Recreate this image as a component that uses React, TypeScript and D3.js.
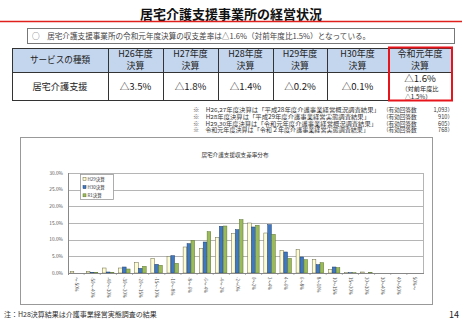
import { useRef, useEffect } from 'react';
import * as d3 from 'd3';

const W = 462;
const H = 320;
const FONT = '"Noto Sans CJK JP", "Noto Sans", sans-serif';

// table
const yearHeaders = ['H26年度', 'H27年度', 'H28年度', 'H29年度', 'H30年度', '令和元年度'];
const rateValues = ['△3.5%', '△1.8%', '△1.4%', '△0.2%', '△0.1%', '△1.6%'];
const COL_EDGES = [12, 108, 163, 218, 273, 327, 388, 452];

// notes
const noteSources = [
  '※　H26,27年度決算は「平成28年度介護事業経営概況調査結果」',
  '※　H28年度決算は「平成29年度介護事業経営実態調査結果」',
  '※　H29,30年度決算は「令和元年度介護事業経営概況調査結果」',
  '※　令和元年度決算は「令和２年度介護事業経営実態調査結果」',
];
const noteCounts = ['1,093', '910', '605', '768'];
const NOTE_WIDTHS = [187, 177, 184, 176];

// chart
const binLabels = [
  '～-50%', '-50～-40%', '-40～-30%', '-30～-20%', '-20～-15%', '-15～-10%',
  '-10～-8%', '-8～-6%', '-6～-4%', '-4～-2%', '-2～0%', '0～2%', '2～4%',
  '4～6%', '6～8%', '8～10%', '10～15%', '15～20%', '20～30%', '30～40%',
  '40～50%', '50%～',
];
const seriesNames = ['H29決算', 'H30決算', 'R1決算'];
const h29 = [0.5, 0.5, 1.5, 1.5, 3.1, 4.4, 5.0, 7.8, 7.4, 10.7, 11.8, 15.0, 12.0, 6.8, 7.1, 4.0, 1.1, 0.1, 0.3, 0, 0, 0];
const h30 = [0, 0.2, 0.3, 1.8, 1.4, 2.6, 5.2, 8.8, 9.3, 14.0, 13.0, 13.8, 14.5, 6.3, 4.8, 2.5, 1.8, 0.1, 0, 0, 0, 0];
const r1 = [0, 0.2, 0.2, 1.2, 2.0, 2.3, 2.9, 9.8, 12.4, 14.1, 16.0, 14.3, 11.6, 4.4, 4.0, 3.1, 1.6, 0.1, 0.2, 0, 0, 0];
const yTicks = [0, 5, 10, 15, 20, 25, 30];

const FILLS = ['#fdfbd2', '#3f78c2', '#9bbb59'];
const STROKES = ['#6b6b4a', '#1f3f6e', '#5a7431'];

export default function App() {
  const svgRef = useRef<SVGSVGElement>(null);

  useEffect(() => {
    const svg = svgRef.current;
    if (!svg) return;
    const root = d3.select(svg);
    root.selectAll('*').remove();
    root.append('rect').attr('width', W).attr('height', H).attr('fill', '#fff');

    // Title
    root.append('text')
      .attr('x', 231).attr('y', 19)
      .attr('text-anchor', 'middle')
      .attr('font-family', FONT).attr('font-size', 13).attr('font-weight', 700)
      .attr('fill', '#111')
      .text('居宅介護支援事業所の経営状況');
    root.append('line')
      .attr('x1', 0).attr('x2', W).attr('y1', 21.5).attr('y2', 21.5)
      .attr('stroke', '#e0201c').attr('stroke-width', 1.3);

    // Summary box
    root.append('rect')
      .attr('x', 27.5).attr('y', 28.5).attr('width', 427).attr('height', 15)
      .attr('fill', '#fff').attr('stroke', '#777').attr('stroke-width', 1);
    root.append('text')
      .attr('x', 32).attr('y', 38.5)
      .attr('font-family', FONT).attr('font-size', 7.6).attr('fill', '#444')
      .text('○　居宅介護支援事業所の令和元年度決算の収支差率は△1.6%（対前年度比1.5%）となっている。');

    // Table
    const tHeadTop = 48;
    const tHeadBot = 72;
    const tRowBot = 100;
    const tbl = root.append('g');
    tbl.append('rect')
      .attr('x', COL_EDGES[0]).attr('y', tHeadTop)
      .attr('width', COL_EDGES[7] - COL_EDGES[0]).attr('height', tHeadBot - tHeadTop)
      .attr('fill', '#c4d6ee');
    tbl.append('text')
      .attr('x', (COL_EDGES[0] + COL_EDGES[1]) / 2).attr('y', 63)
      .attr('text-anchor', 'middle')
      .attr('font-family', FONT).attr('font-size', 8.6).attr('fill', '#222')
      .text('サービスの種類');
    tbl.append('text')
      .attr('x', (COL_EDGES[0] + COL_EDGES[1]) / 2).attr('y', 90)
      .attr('text-anchor', 'middle')
      .attr('font-family', FONT).attr('font-size', 9.2).attr('fill', '#222')
      .text('居宅介護支援');
    yearHeaders.forEach((h, i) => {
      const cx = (COL_EDGES[i + 1] + COL_EDGES[i + 2]) / 2;
      tbl.append('text')
        .attr('x', cx).attr('y', 57)
        .attr('text-anchor', 'middle')
        .attr('font-family', FONT).attr('font-size', 9).attr('fill', '#222')
        .text(h);
      tbl.append('text')
        .attr('x', cx).attr('y', 68.5)
        .attr('text-anchor', 'middle')
        .attr('font-family', FONT).attr('font-size', 9).attr('fill', '#222')
        .text('決算');
      const last = i === yearHeaders.length - 1;
      tbl.append('text')
        .attr('x', cx).attr('y', last ? 82 : 90)
        .attr('text-anchor', 'middle')
        .attr('font-family', FONT).attr('font-size', 9.6).attr('fill', '#222')
        .text(rateValues[i]);
      if (last) {
        tbl.append('text')
          .attr('x', cx).attr('y', 91)
          .attr('text-anchor', 'middle')
          .attr('font-family', FONT).attr('font-size', 6.2).attr('fill', '#222')
          .text('（対前年度比');
        tbl.append('text')
          .attr('x', cx - 2).attr('y', 99)
          .attr('text-anchor', 'middle')
          .attr('font-family', FONT).attr('font-size', 6.2).attr('fill', '#222')
          .text('△1.5%）');
      }
    });
    // grid of the table
    COL_EDGES.forEach((x) => {
      tbl.append('line')
        .attr('x1', x + 0.5).attr('x2', x + 0.5).attr('y1', tHeadTop).attr('y2', tRowBot)
        .attr('stroke', '#333').attr('stroke-width', 1);
    });
    [tHeadTop, tHeadBot, tRowBot].forEach((y) => {
      tbl.append('line')
        .attr('x1', COL_EDGES[0]).attr('x2', COL_EDGES[7] + 1).attr('y1', y + 0.5).attr('y2', y + 0.5)
        .attr('stroke', '#333').attr('stroke-width', 1);
    });
    // red highlight
    tbl.append('rect')
      .attr('x', 389).attr('y', 47.5).attr('width', 63).attr('height', 53)
      .attr('fill', 'none').attr('stroke', '#e8141b').attr('stroke-width', 2);

    // Notes
    noteSources.forEach((s, i) => {
      const y = 112 + i * 6.8;
      root.append('text')
        .attr('x', 193).attr('y', y)
        .attr('font-family', FONT).attr('font-size', 5.6).attr('fill', '#333')
        .attr('textLength', NOTE_WIDTHS[i]).attr('lengthAdjust', 'spacingAndGlyphs')
        .text(s);
      root.append('text')
        .attr('x', 383).attr('y', y)
        .attr('font-family', FONT).attr('font-size', 5.6).attr('fill', '#333')
        .text('（有効回答数');
      root.append('text')
        .attr('x', 453).attr('y', y)
        .attr('text-anchor', 'end')
        .attr('font-family', FONT).attr('font-size', 5.6).attr('fill', '#333')
        .text(`${noteCounts[i]}）`);
    });

    // Chart frame
    root.append('rect')
      .attr('x', 20.5).attr('y', 137.5).attr('width', 412).attr('height', 167)
      .attr('fill', '#fff').attr('stroke', '#999').attr('stroke-width', 1);
    root.append('text')
      .attr('x', 235).attr('y', 157)
      .attr('text-anchor', 'middle')
      .attr('font-family', FONT).attr('font-size', 5.6).attr('fill', '#333')
      .text('居宅介護支援収支差率分布');

    const plotL = 68;
    const plotR = 423;
    const plotT = 173;
    const plotB = 273;

    const x = d3.scaleBand<string>()
      .domain(binLabels)
      .range([plotL, plotR])
      .paddingInner(0.27)
      .paddingOuter(0.135);
    const xSub = d3.scaleBand<string>()
      .domain(seriesNames)
      .range([0, x.bandwidth()]);
    const y = d3.scaleLinear().domain([0, 30]).range([plotB, plotT]);

    const g = root.append('g');
    // gridlines
    yTicks.forEach((t) => {
      g.append('line')
        .attr('x1', plotL).attr('x2', plotR)
        .attr('y1', Math.round(y(t)) + 0.5).attr('y2', Math.round(y(t)) + 0.5)
        .attr('stroke', '#b5b5b5').attr('stroke-width', 1);
      g.append('text')
        .attr('x', plotL - 5).attr('y', y(t))
        .attr('dy', '0.35em')
        .attr('text-anchor', 'end')
        .attr('font-family', FONT).attr('font-size', 4.8).attr('fill', '#555')
        .text(`${t.toFixed(1)}%`);
    });
    g.append('line')
      .attr('x1', plotR + 0.5).attr('x2', plotR + 0.5).attr('y1', plotT).attr('y2', plotB)
      .attr('stroke', '#b5b5b5');
    g.append('line')
      .attr('x1', plotL + 0.5).attr('x2', plotL + 0.5).attr('y1', plotT).attr('y2', plotB + 2)
      .attr('stroke', '#888');

    // bars
    const series = [h29, h30, r1];
    series.forEach((vals, si) => {
      binLabels.forEach((b, i) => {
        const v = vals[i];
        if (v <= 0) return;
        const bx = (x(b) ?? 0) + (xSub(seriesNames[si]) ?? 0);
        g.append('rect')
          .attr('x', bx).attr('y', y(v))
          .attr('width', xSub.bandwidth() - 0.3)
          .attr('height', Math.max(0.6, y(0) - y(v)))
          .attr('fill', FILLS[si])
          .attr('stroke', STROKES[si]).attr('stroke-width', 0.5);
      });
    });

    // x axis
    g.append('line')
      .attr('x1', plotL).attr('x2', plotR + 1).attr('y1', plotB + 0.5).attr('y2', plotB + 0.5)
      .attr('stroke', '#888');
    binLabels.forEach((b, i) => {
      const left = (x(b) ?? 0) - (x.step() * x.paddingInner()) / 2;
      if (i > 0) {
        g.append('line')
          .attr('x1', left).attr('x2', left).attr('y1', plotB).attr('y2', plotB + 2)
          .attr('stroke', '#888').attr('stroke-width', 0.6);
      }
      const cx = (x(b) ?? 0) + x.bandwidth() / 2;
      g.append('text')
        .attr('transform', `translate(${cx - 1.5},${plotB + 4}) rotate(90)`)
        .attr('font-family', FONT).attr('font-size', 4.3).attr('fill', '#444')
        .text(b);
    });

    // legend
    const lg = root.append('g');
    lg.append('rect')
      .attr('x', 80.5).attr('y', 174.5).attr('width', 33).attr('height', 25)
      .attr('fill', '#fff').attr('stroke', '#999').attr('stroke-width', 0.8);
    seriesNames.forEach((n, i) => {
      const ly = 179 + i * 8.2;
      lg.append('rect')
        .attr('x', 83).attr('y', ly - 1.6).attr('width', 3).attr('height', 3)
        .attr('fill', FILLS[i]).attr('stroke', STROKES[i]).attr('stroke-width', 0.5);
      lg.append('text')
        .attr('x', 87.5).attr('y', ly)
        .attr('dy', '0.35em')
        .attr('font-family', FONT).attr('font-size', 4.5).attr('fill', '#333')
        .text(n);
    });

    // footer
    root.append('text')
      .attr('x', 4).attr('y', 317)
      .attr('font-family', FONT).attr('font-size', 7).attr('fill', '#333')
      .text('注：H28決算結果は介護事業経営実態調査の結果');
    root.append('text')
      .attr('x', 459).attr('y', 318)
      .attr('text-anchor', 'end')
      .attr('font-family', FONT).attr('font-size', 9).attr('fill', '#222')
      .text('14');
  }, []);

  return (
    <svg
      ref={svgRef}
      width={W}
      height={H}
      viewBox={`0 0 ${W} ${H}`}
      style={{ position: 'absolute', left: 0, top: 0, display: 'block' }}
    />
  );
}
